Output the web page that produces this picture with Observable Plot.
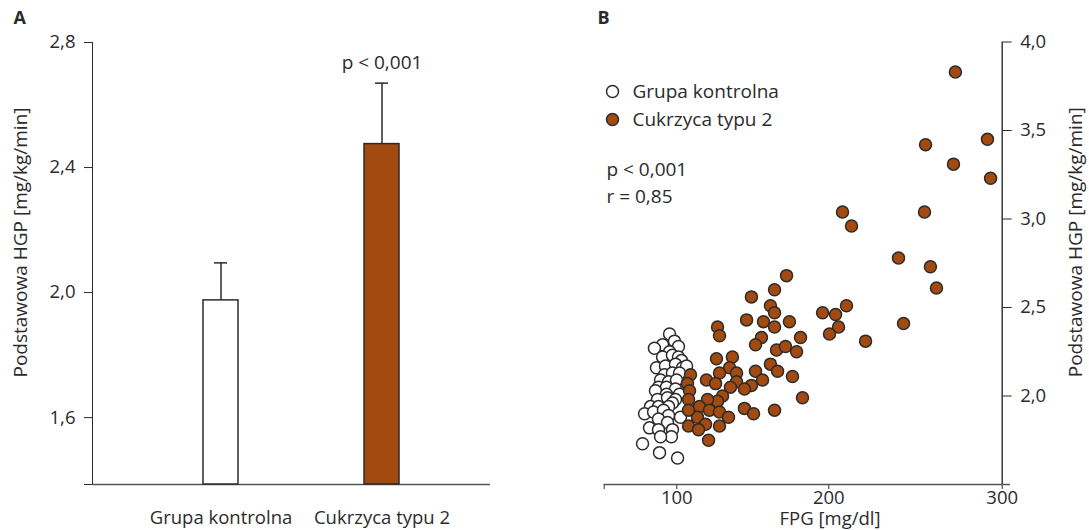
<!DOCTYPE html>
<html>
<head>
<meta charset="utf-8">
<script src="https://cdn.jsdelivr.net/npm/d3@7"></script>
<script src="https://cdn.jsdelivr.net/npm/@observablehq/plot@0.6"></script>
<style>
  html, body { margin: 0; padding: 0; background: #fff; }
  #wrap { position: relative; width: 1089px; height: 530px; display: flex; }
  #wrap svg { display: block; }
</style>
</head>
<body>
<div id="wrap"><div id="panelA"></div><div id="panelB"></div></div>
<script>
// ---------- Panel A: basal hepatic glucose production by group ----------
const groups = ["Grupa kontrolna", "Cukrzyca typu 2"];
const hgpMean = [1.975, 2.475];
const hgpSD = [0.12, 0.195];
const groupFill = ["#ffffff", "#a34a10"];
const pLabelA = "p < 0,001";
const yLabel = "Podstawowa HGP [mg/kg/min]";
const yTicksA = [1.386, 1.6, 2.0, 2.4, 2.8];

// ---------- Panel B: FPG vs basal HGP ----------
const controlFPG = [95.0, 98.4, 90.2, 101.1, 84.6, 95.0, 90.2, 97.0, 101.1, 103.1,
  86.0, 92.2, 99.1, 103.8, 106.4, 91.5, 97.0, 101.8, 88.8, 94.3,
  99.8, 87.4, 92.9, 99.1, 85.3, 101.8, 92.9, 86.7, 93.6, 99.1,
  97.0, 81.9, 87.4, 94.3, 77.8, 84.0, 90.8, 102.4, 94.3, 87.4,
  93.6, 81.2, 87.4, 97.0, 96.3, 88.8, 76.4, 88.1, 100.5];
const controlHGP = [2.35, 2.31, 2.29, 2.28, 2.27, 2.25, 2.22, 2.23, 2.22, 2.20,
  2.16, 2.17, 2.18, 2.16, 2.17, 2.12, 2.13, 2.13, 2.09, 2.08,
  2.09, 2.05, 2.05, 2.04, 2.03, 2.01, 2.01, 1.98, 1.99, 1.98,
  1.96, 1.94, 1.94, 1.94, 1.90, 1.91, 1.92, 1.88, 1.89, 1.87,
  1.85, 1.82, 1.81, 1.81, 1.77, 1.77, 1.73, 1.68, 1.65];
const diabetesFPG = [273.0, 291.5, 255.8, 271.9, 293.3, 207.9, 255.2, 213.1, 240.2, 258.6,
  262.1, 210.2, 195.9, 203.9, 205.6, 200.4, 243.1, 221.2, 172.2, 164.3,
  149.1, 161.6, 164.3, 145.9, 157.0, 164.3, 174.1, 126.8, 128.1, 155.7,
  151.8, 181.4, 165.6, 171.5, 178.8, 126.1, 136.6, 134.7, 128.1, 139.3,
  119.5, 125.5, 139.3, 135.3, 151.8, 161.6, 166.3, 156.4, 149.1, 144.5,
  130.1, 126.8, 120.2, 114.9, 121.5, 128.1, 134.0, 113.6, 176.1, 182.7,
  144.5, 150.5, 164.3, 118.9, 128.1, 107.7, 114.3, 120.9, 109.0, 107.0,
  108.4, 107.7, 107.7];
const diabetesHGP = [3.83, 3.45, 3.42, 3.31, 3.23, 3.04, 3.04, 2.96, 2.78, 2.73,
  2.61, 2.51, 2.47, 2.46, 2.39, 2.35, 2.41, 2.31, 2.68, 2.60,
  2.56, 2.51, 2.47, 2.43, 2.42, 2.39, 2.42, 2.39, 2.34, 2.33,
  2.29, 2.33, 2.26, 2.28, 2.25, 2.21, 2.22, 2.16, 2.13, 2.13,
  2.09, 2.07, 2.08, 2.05, 2.14, 2.18, 2.14, 2.09, 2.06, 2.04,
  2.00, 1.97, 1.98, 1.94, 1.92, 1.91, 1.88, 1.88, 2.11, 1.99,
  1.93, 1.90, 1.92, 1.84, 1.83, 1.83, 1.81, 1.75, 2.12, 2.07,
  2.03, 1.98, 1.92];
const legendLabels = ["Grupa kontrolna", "Cukrzyca typu 2"];
const statsLabels = ["p < 0,001", "r = 0,85"];
const xLabelB = "FPG [mg/dl]";
const xTicksB = [50, 100, 200, 300];
const yTicksB = [2.0, 2.5, 3.0, 3.5, 4.0];

const brown = "#a34a10";
const ink = "#2b2b2b";
const font = "'Open Sans', 'Noto Sans', sans-serif";
const fs = 19;      // labels
const fsTick = 18.5; // tick labels
const comma1 = d => d.toFixed(1).replace(".", ",");

// ---------------- Panel A ----------------
const barData = groups.map((g, i) => ({group: g, mean: hgpMean[i], sd: hgpSD[i], fill: groupFill[i]}));
const yMinA = yTicksA[0];

const chartA = Plot.plot({
  width: 545, height: 530,
  marginLeft: 92, marginRight: 55, marginTop: 42, marginBottom: 46,
  style: {fontFamily: font, fontSize: fsTick + "px", color: ink, background: "#fff"},
  x: {type: "band", domain: groups, range: [139.25, 462.25], paddingInner: 0.7833, paddingOuter: 0.3917,
      axis: "bottom", tickSize: 0, tickPadding: 26, label: null},
  y: {domain: [yMinA, 2.8], ticks: yTicksA, tickFormat: d => d < 1.5 ? "" : comma1(d),
      tickSize: 8, tickPadding: 9, label: null, line: true},
  marks: [
    Plot.ruleY([yMinA], {stroke: "#555", strokeWidth: 1.6}),
    Plot.barY(barData, {x: "group", y1: yMinA, y2: "mean", fill: "fill", stroke: ink, strokeWidth: 1.5}),
    Plot.ruleX(barData, {x: "group", y1: "mean", y2: d => d.mean + d.sd, stroke: ink, strokeWidth: 1.5}),
    Plot.tickY(barData, {x: "group", y: d => d.mean + d.sd, insetLeft: 11, insetRight: 11, stroke: ink, strokeWidth: 1.5}),
    Plot.text([barData[1]], {x: "group", y: d => d.mean + d.sd, dy: -20, lineAnchor: "middle",
      text: () => pLabelA, fontSize: fs, fill: ink}),
    Plot.text([yLabel], {frameAnchor: "left", rotate: -90, dx: -72, dy: -21, textAnchor: "middle", lineAnchor: "middle",
      text: d => d, fontSize: fs, fill: ink}),
    Plot.text(["A"], {frameAnchor: "top-left", dx: -79, dy: -24, textAnchor: "start", lineAnchor: "middle",
      text: d => d, fontSize: 18, fontWeight: "bold", fill: ink})
  ]
});
document.getElementById("panelA").appendChild(chartA);

// ---------------- Panel B ----------------
const control = controlFPG.map((x, i) => ({fpg: x, hgp: controlHGP[i]}));
const diabetes = diabetesFPG.map((x, i) => ({fpg: x, hgp: diabetesHGP[i]}));
const dotR = 6;

const legendMarks = [];
legendLabels.forEach((lab, i) => {
  legendMarks.push(Plot.dot([lab], {frameAnchor: "top-left", dx: 8.3, dy: 49.5 + 28 * i, r: dotR,
    fill: i === 0 ? "#fff" : brown, stroke: ink, strokeWidth: 1.5}));
  legendMarks.push(Plot.text([lab], {frameAnchor: "top-left", dx: 28.3, dy: 49.5 + 28 * i, textAnchor: "start",
    lineAnchor: "middle", text: d => d, fontSize: fs, fill: ink}));
});
statsLabels.forEach((lab, i) => {
  legendMarks.push(Plot.text([lab], {frameAnchor: "top-left", dx: 2.3, dy: 127.5 + 27 * i, textAnchor: "start",
    lineAnchor: "middle", text: d => d, fontSize: fs, fill: ink}));
});

const chartB = Plot.plot({
  width: 544, height: 530,
  marginLeft: 58.7, marginRight: 87.3, marginTop: 41.5, marginBottom: 46,
  style: {fontFamily: font, fontSize: fsTick + "px", color: ink, background: "#fff"},
  x: {type: "linear", domain: xTicksB, range: [58.7, 131.3, 283.3, 456.7], ticks: xTicksB,
      tickFormat: d => d === 50 ? "" : String(d), tickSize: 5, tickPadding: 1, label: null},
  y: {domain: [1.5, 4.0], axis: "right", ticks: yTicksB, tickFormat: comma1,
      tickSize: 9, tickPadding: 9, label: null},
  marks: [
    Plot.ruleY([1.5], {insetRight: -8.3, stroke: "#555", strokeWidth: 1.6}),
    Plot.ruleX([300], {y1: 1.5, y2: 4.0, stroke: ink, strokeWidth: 1.4}),
    Plot.dot(control, {x: "fpg", y: "hgp", r: dotR, fill: "#fff", stroke: ink, strokeWidth: 1.5}),
    Plot.dot(diabetes, {x: "fpg", y: "hgp", r: dotR, fill: brown, stroke: ink, strokeWidth: 1.5}),
    ...legendMarks,
    Plot.text([xLabelB], {frameAnchor: "bottom", dx: 26.8, dy: 34.5, lineAnchor: "middle",
      text: d => d, fontSize: 18.5, fill: ink}),
    Plot.text([yLabel], {frameAnchor: "right", rotate: -90, dx: 74, dy: -21, textAnchor: "middle", lineAnchor: "middle",
      text: d => d, fontSize: fs, fill: ink}),
    Plot.text(["B"], {frameAnchor: "top-left", dx: -6.7, dy: -24, textAnchor: "start", lineAnchor: "middle",
      text: d => d, fontSize: 18, fontWeight: "bold", fill: ink})
  ]
});
document.getElementById("panelB").appendChild(chartB);
</script>
</body>
</html>
